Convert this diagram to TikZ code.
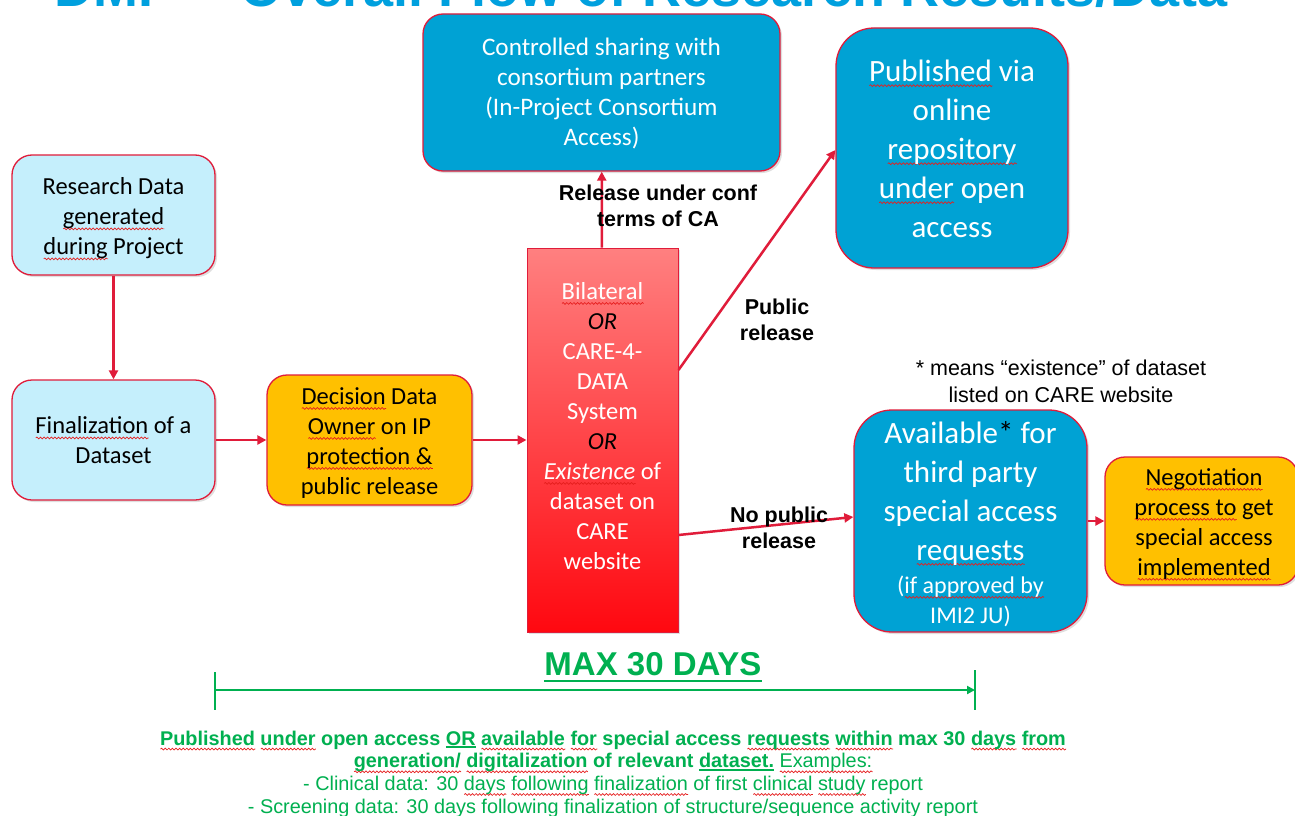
\documentclass[tikz,border=0pt]{standalone}
\usepackage{fontspec}
\setmainfont{Carlito}
\newfontfamily\arial{Liberation Sans}
\usetikzlibrary{arrows.meta,shadows,decorations.pathmorphing}
\definecolor{lblue}{RGB}{197,239,252}
\definecolor{bordred}{RGB}{224,28,58}
\definecolor{orng}{RGB}{255,192,0}
\definecolor{dblue}{RGB}{0,162,212}
\definecolor{grn}{RGB}{0,176,80}
\definecolor{titleblue}{RGB}{0,160,222}
\definecolor{redtop}{RGB}{255,128,128}
\definecolor{redbot}{RGB}{255,8,16}
\definecolor{sqred}{RGB}{230,30,30}
% wavy spell-check underline
\newdimen\sqwd
\newcommand\sq[1]{\leavevmode\setbox0\hbox{#1}\sqwd=\wd0\relax\rlap{\tikz[x=1pt,y=1pt,baseline=0pt]\draw[sqred,line width=0.7pt,sharp corners,decorate,decoration={snake,amplitude=0.9pt,segment length=3.6pt}] (0pt,-4pt) -- (\sqwd,-4pt);}\box0\relax}
% straight underline: thickness, depth, text
\newcommand\gul[3]{\leavevmode\setbox0\hbox{#3}\rlap{\raisebox{-#2}{\rule{\wd0}{#1}}}\box0\relax}
\begin{document}
\begin{tikzpicture}[x=1pt,y=-1pt,
  box/.style={draw=bordred, line width=1.3pt, rounded corners=20pt, inner sep=0pt,
    drop shadow={shadow xshift=2pt, shadow yshift=-2pt, opacity=0.25}},
  lightbox/.style={box, fill=lblue},
  orangebox/.style={box, fill=orng},
  bluebox/.style={box, fill=dblue},
  txt/.style={align=center, inner sep=0pt, text=black, font=\fontsize{24.5}{30}\selectfont},
  wtxt/.style={txt, text=white},
  arr/.style={draw=bordred, line width=2.5pt, -{Triangle[length=9pt,width=9pt]}},
  garr/.style={draw=grn, line width=2.5pt, -{Triangle[length=8pt,width=8pt]}},
  gline/.style={draw=grn, line width=2.5pt},
  lbl/.style={font={\arial\bfseries\fontsize{21.5}{26}\selectfont}, align=center, inner sep=0pt},
  note/.style={font={\arial\fontsize{21.5}{27}\selectfont}, align=center, inner sep=0pt}
]
\fill[white] (0,0) rectangle (1295,816);
\path[use as bounding box, clip] (0,0) rectangle (1295,816);

% title (cut off at top)
\node[anchor=base, inner sep=0pt, text=titleblue, font={\arial\bfseries\fontsize{54}{60}\selectfont}] (title) at (641,7) {DMP -- Overall Flow of Research Results/Data};

% boxes
\node[lightbox, minimum width=203pt, minimum height=120pt] (research) at (113.5,215) {};
\node[txt] (researchT) at (113.5,219) {Research Data\\\sq{generated}\\\sq{during} Project};
\node[lightbox, minimum width=203pt, minimum height=120pt] (final) at (113.5,440) {};
\node[txt] (finalT) at (113.5,440.5) {\sq{Finalization} of a\\Dataset};
\node[orangebox, minimum width=205pt, minimum height=130pt] (decision) at (369.5,440) {};
\node[txt] (decisionT) at (369.5,443) {\sq{Decision} Data\\\sq{Owner} on IP\\\sq{protection \&}\\public release};
\node[draw=bordred, line width=1pt, top color=redtop, bottom color=redbot, minimum width=151pt, minimum height=384pt,
  drop shadow={shadow xshift=2pt, shadow yshift=-2pt, opacity=0.25}] (care) at (602.5,440) {};
\node[wtxt] (careT) at (602.5,426)
  {\sq{Bilateral}\\{\color{black}\itshape OR}\\CARE-4-\\DATA\\System\\{\color{black}\itshape OR}\\\sq{\itshape Existence} of\\dataset on\\CARE\\website};
\node[bluebox, minimum width=357pt, minimum height=157pt] (ctrl) at (601.5,92.5) {};
\node[wtxt, font=\fontsize{25.2}{30}\selectfont] (ctrlT) at (601.5,93.5)
  {Controlled sharing with\\consortium partners\\(In-Project Consortium\\Access)};
\node[bluebox, rounded corners=38pt, minimum width=232pt, minimum height=240pt] (pub) at (952,148) {};
\node[wtxt, font=\fontsize{31}{39}\selectfont] (pubT) at (952,149)
  {\sq{Published} via\\online\\\sq{repository}\\\sq{under} open\\access};
\node[bluebox, rounded corners=38pt, minimum width=233pt, minimum height=222pt] (avail) at (970.5,521) {};
\node[wtxt, font=\fontsize{31}{39}\selectfont] (availT) at (970.5,524)
  {Available{\color{black}*} for\\third party\\special access\\\sq{requests}\\[-6pt]{\fontsize{24}{28}\selectfont(\sq{if approved by}}\\[-9pt]{\fontsize{24}{28}\selectfont IMI2 JU)}};
\node[orangebox, minimum width=193pt, minimum height=128pt] (nego) at (1201.5,521) {};
\node[txt] (negoT) at (1204,524.5)
  {\sq{Negotiation}\\\sq{process to} get\\special access\\\sq{implemented}};

% connectors
\draw[arr] (research) -- (final);
\draw[arr] (final) -- (decision);
\draw[arr] (decision) -- (care);
\draw[arr] (care) -- (ctrl);
\draw[arr] ([yshift=70pt]care.east) -- ([yshift=-2pt]pub.west);
\draw[arr] ([yshift=-95pt]care.east) -- ([yshift=4pt]avail.west);
\draw[arr] (avail) -- (nego);

% labels
\node[lbl] (lrel) at (658,206) {Release under conf\\terms of CA};
\node[lbl] (lpub) at (777,320) {Public\\release};
\node[lbl] (lnopub) at (779,528) {No public\\release};
\node[note] (lnote) at (1061,381) {* means “existence” of dataset\\listed on CARE website};

% timeline
\node[inner sep=0pt, text=grn, font={\arial\bfseries\fontsize{33}{38}\selectfont}] (max) at (653,667)
  {\gul{2.2pt}{7pt}{MAX 30 DAYS}};
\coordinate (t1) at (215,690);
\coordinate (t2) at (975,690);
\draw[garr] (t1) -- (t2);
\draw[gline] (215,672) -- (215,710);
\draw[gline] (975,670) -- (975,710);

\node[align=center, inner sep=0pt, text=grn, font={\arial\fontsize{19.85}{22.7}\selectfont}] (foot) at (613,774)
  {\textbf{\sq{Published} \sq{under} open access \gul{1.6pt}{3pt}{OR} \sq{available} \sq{for} special access \sq{requests} \sq{within} max 30 \sq{days} \sq{from}}\\
   \textbf{\sq{generation/} \sq{digitalization} of relevant \gul{1.6pt}{3pt}{dataset.}} \sq{Examples:}\\
   - Clinical data: 30 \sq{days} \sq{following} \sq{finalization} of first \sq{clinical} \sq{study} report\\
   - Screening data: 30 days following finalization of structure/sequence activity report};
\end{tikzpicture}
\end{document}
